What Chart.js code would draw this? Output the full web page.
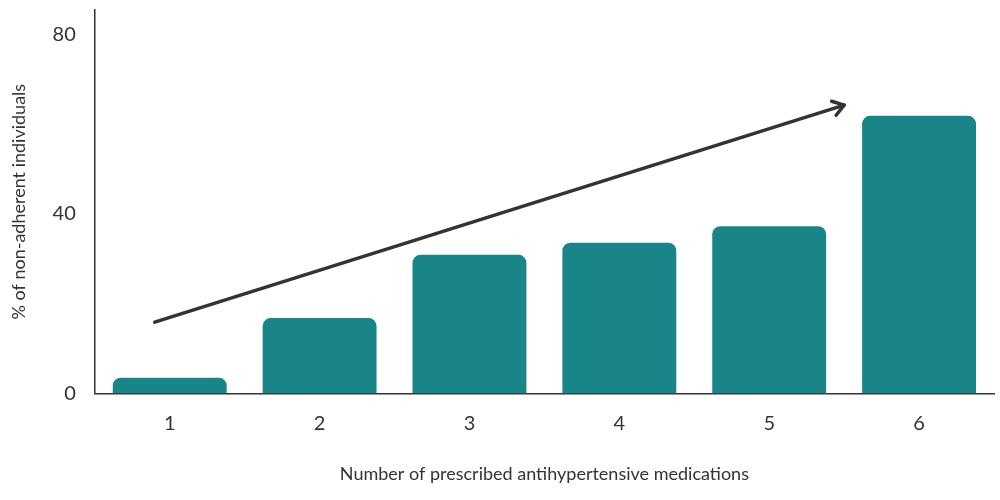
<!DOCTYPE html>
<html><head><script src="https://cdn.jsdelivr.net/npm/chart.js@4"></script>
<style>body{margin:0;background:#fff}#w{width:1000px;height:500px}</style></head>
<body><div id="w"><canvas id="c"></canvas></div>
<script>
const categories=['1','2','3','4','5','6'];
const values=[3.5,16.8,30.9,33.6,37.3,61.9];
const tickValues=[0,40,80];
const arrowStart=[-0.1,15.9];
const arrowEnd=[4.5,64.3];
const arrowPlugin={id:'arrow',afterDatasetsDraw(ch){
 const x=ch.scales.x,y=ch.scales.y,c=ch.ctx;
 const x1=x.getPixelForValue(arrowStart[0]),y1=y.getPixelForValue(arrowStart[1]);
 const x2=x.getPixelForValue(arrowEnd[0]),y2=y.getPixelForValue(arrowEnd[1]);
 c.save();c.strokeStyle='#333';c.lineWidth=3.5;c.lineCap='round';c.lineJoin='round';
 c.beginPath();c.moveTo(x1,y1);c.lineTo(x2,y2);c.stroke();
 const a=Math.atan2(y2-y1,x2-x1),L=13;
 c.beginPath();c.moveTo(x2-L*Math.cos(a-0.6),y2-L*Math.sin(a-0.6));c.lineTo(x2,y2);
 c.lineTo(x2-L*Math.cos(a+0.6),y2-L*Math.sin(a+0.6));c.stroke();c.restore();}};
new Chart(document.getElementById('c'),{type:'bar',
 data:{labels:categories,datasets:[{data:values,backgroundColor:'#1a8589',borderRadius:8,borderSkipped:'bottom',categoryPercentage:0.76,barPercentage:1}]},
 options:{responsive:true,maintainAspectRatio:false,animation:false,
  layout:{padding:{top:10,right:6,left:4,bottom:11}},
  plugins:{legend:{display:false},tooltip:{enabled:false}},
  scales:{
   x:{grid:{display:false,drawTicks:false},border:{color:'#333',width:1.5},
      ticks:{color:'#333',font:{family:'Lato',size:20},padding:18},
      title:{display:true,text:'Number of prescribed antihypertensive medications',color:'#333',font:{family:'Lato',size:18},padding:{top:10}}},
   y:{min:0,max:85.5,afterBuildTicks(s){s.ticks=tickValues.map(v=>({value:v}));},
      afterFit(s){s.paddingTop=0;s.paddingBottom=0;},
      grid:{display:false,drawTicks:false},border:{color:'#333',width:1.5},
      ticks:{color:'#333',font:{family:'Lato',size:20},padding:19},
      title:{display:true,text:'% of non-adherent individuals',color:'#333',font:{family:'Lato',size:18},padding:{bottom:4}}}}},
 plugins:[arrowPlugin]});
</script></body></html>
